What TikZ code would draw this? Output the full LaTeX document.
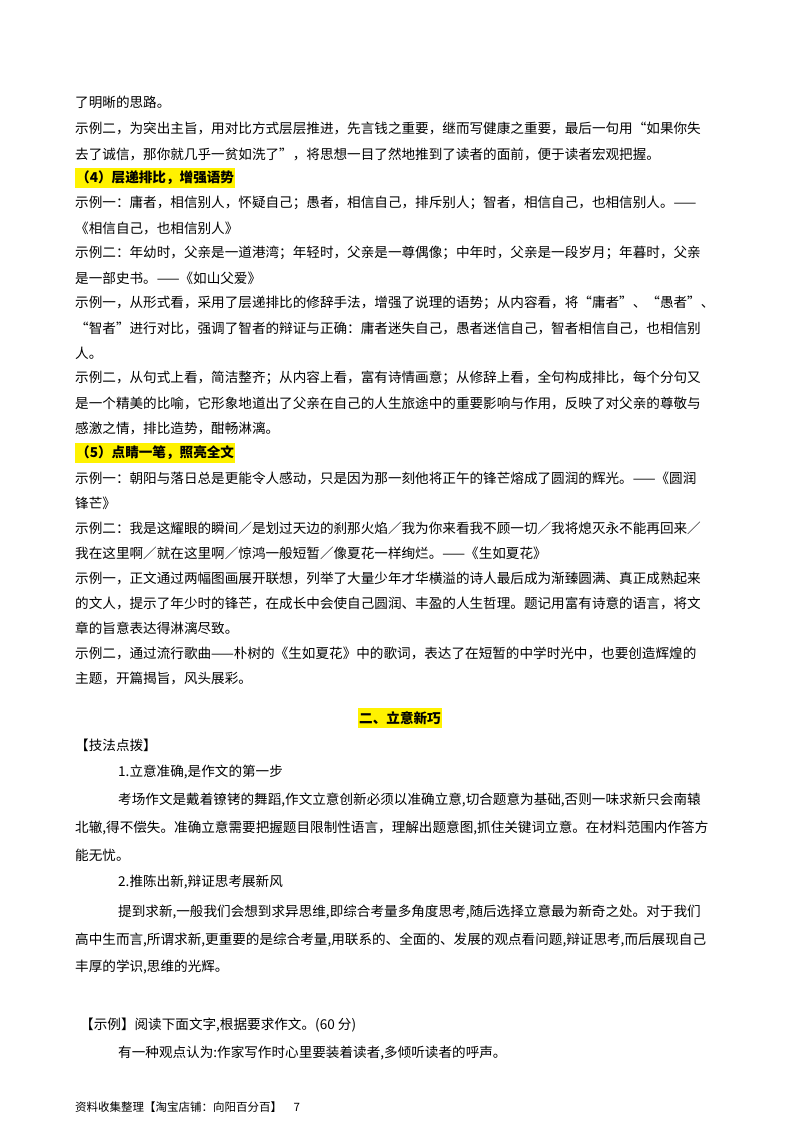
\documentclass[tikz,border=0pt]{standalone}
\usepackage{fontspec}
\setmainfont{Noto Sans CJK SC}
\XeTeXlinebreaklocale "zh"
\XeTeXlinebreakskip=0pt plus 2pt
\newcommand{\FF}[1]{\makebox[650pt][s]{#1}}
\begin{document}
\begin{tikzpicture}[x=1pt,y=-1pt,
  txt/.style={anchor=west,inner sep=0pt,font=\fontsize{13.6}{14}\selectfont},
  hl/.style={txt,fill=yellow,inner ysep=3pt,inner xsep=1pt,font=\fontsize{13.6}{14}\selectfont\bfseries},
  foot/.style={anchor=west,inner sep=0pt,font=\fontsize{11.5}{12}\selectfont}]
\useasboundingbox (0,0) rectangle (800,1132);
\node[txt] (l1) at (75,102) {了明晰的思路。};
\node[txt] (l2) at (75,128) {\FF{示例二，为突出主旨，用对比方式层层推进，先言钱之重要，继而写健康之重要，最后一句用“如果你失}};
\node[txt] (l3) at (75,154) {去了诚信，那你就几乎一贫如洗了”，将思想一目了然地推到了读者的面前，便于读者宏观把握。};
\node[hl] (h4) at (75,178) {（4）层递排比，增强语势};
\node[txt] (l5) at (75,203) {\FF{示例一：庸者，相信别人，怀疑自己；愚者，相信自己，排斥别人；智者，相信自己，也相信别人。——}};
\node[txt] (l6) at (75,228) {《相信自己，也相信别人》};
\node[txt] (l7) at (75,253) {\FF{示例二：年幼时，父亲是一道港湾；年轻时，父亲是一尊偶像；中年时，父亲是一段岁月；年暮时，父亲}};
\node[txt] (l8) at (75,278) {是一部史书。——《如山父爱》};
\node[txt] (l9) at (75,303) {\FF{示例一，从形式看，采用了层递排比的修辞手法，增强了说理的语势；从内容看，将“庸者”、“愚者”、}};
\node[txt] (l10) at (75,328) {\FF{“智者”进行对比，强调了智者的辩证与正确：庸者迷失自己，愚者迷信自己，智者相信自己，也相信别}};
\node[txt] (l11) at (75,353) {人。};
\node[txt] (l12) at (75,378) {\FF{示例二，从句式上看，简洁整齐；从内容上看，富有诗情画意；从修辞上看，全句构成排比，每个分句又}};
\node[txt] (l13) at (75,403) {\FF{是一个精美的比喻，它形象地道出了父亲在自己的人生旅途中的重要影响与作用，反映了对父亲的尊敬与}};
\node[txt] (l14) at (75,428) {感激之情，排比造势，酣畅淋漓。};
\node[hl] (h5) at (75,453) {（5）点睛一笔，照亮全文};
\node[txt] (l16) at (75,478) {\FF{示例一：朝阳与落日总是更能令人感动，只是因为那一刻他将正午的锋芒熔成了圆润的辉光。——《圆润}};
\node[txt] (l17) at (75,503) {锋芒》};
\node[txt] (l18) at (75,528) {\FF{示例二：我是这耀眼的瞬间／是划过天边的刹那火焰／我为你来看我不顾一切／我将熄灭永不能再回来／}};
\node[txt] (l19) at (75,553) {我在这里啊／就在这里啊／惊鸿一般短暂／像夏花一样绚烂。——《生如夏花》};
\node[txt] (l20) at (75,578) {\FF{示例一，正文通过两幅图画展开联想，列举了大量少年才华横溢的诗人最后成为渐臻圆满、真正成熟起来}};
\node[txt] (l21) at (75,603) {\FF{的文人，提示了年少时的锋芒，在成长中会使自己圆润、丰盈的人生哲理。题记用富有诗意的语言，将文}};
\node[txt] (l22) at (75,628) {章的旨意表达得淋漓尽致。};
\node[txt] (l23) at (75,653) {\FF{示例二，通过流行歌曲——朴树的《生如夏花》中的歌词，表达了在短暂的中学时光中，也要创造辉煌的}};
\node[txt] (l24) at (75,678) {主题，开篇揭旨，风头展彩。};
\node[hl,anchor=center] (t2) at (400,718) {二、立意新巧};
\node[txt] (l26) at (75,745) {【技法点拨】};
\node[txt] (l27) at (118,772) {1.立意准确,是作文的第一步};
\node[txt] (l28) at (118,800) {\makebox[607pt][s]{考场作文是戴着镣铐的舞蹈,作文立意创新必须以准确立意,切合题意为基础,否则一味求新只会南辕}};
\node[txt] (l29) at (75,828) {\FF{北辙,得不偿失。准确立意需要把握题目限制性语言，理解出题意图,抓住关键词立意。在材料范围内作答方}};
\node[txt] (l30) at (75,855) {能无忧。};
\node[txt] (l31) at (118,882) {2.推陈出新,辩证思考展新风};
\node[txt] (l32) at (118,912) {\makebox[607pt][s]{提到求新,一般我们会想到求异思维,即综合考量多角度思考,随后选择立意最为新奇之处。对于我们}};
\node[txt] (l33) at (75,940) {\FF{高中生而言,所谓求新,更重要的是综合考量,用联系的、全面的、发展的观点看问题,辩证思考,而后展现自己}};
\node[txt] (l34) at (75,967) {丰厚的学识,思维的光辉。};
\node[txt] (l35) at (80,1025) {【示例】阅读下面文字,根据要求作文。(60 分)};
\node[txt] (l36) at (118,1053) {有一种观点认为:作家写作时心里要装着读者,多倾听读者的呼声。};
\node[foot] (ft) at (75,1107) {资料收集整理【淘宝店铺：向阳百分百】\quad 7};
\end{tikzpicture}
\end{document}
